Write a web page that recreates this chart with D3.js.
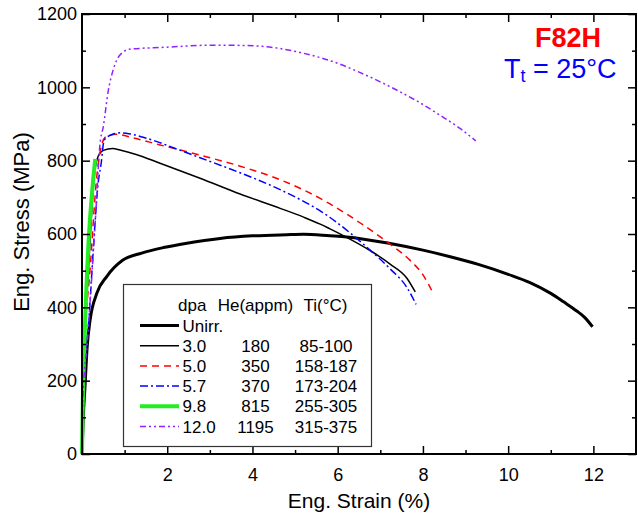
<!DOCTYPE html>
<html>
<head>
<meta charset="utf-8">
<script src="https://cdn.jsdelivr.net/npm/d3@7"></script>
<style>
    body { margin: 0; background: #fff; }
    svg { display: block; font-family: "Liberation Sans", Arial, sans-serif; }
</style>
</head>
<body>
<svg id="chart" width="638" height="519"></svg>
<script>
// strain (%), stress (MPa)
const unirr = [[0,0],[0.03,100],[0.07,183],[0.12,290],[0.19,365],[0.35,439],[0.58,484],[0.96,529],[1.4,548],[1.91,563],[2.46,575],[3.24,588],[4.0,595],[4.8,598],[5.2,599],[5.82,595],[6.21,592],[7.23,574],[8.0,556],[8.64,538],[9.3,517],[10.0,490],[10.5,468],[11.0,438],[11.3,415],[11.61,390],[11.8,372],[11.98,347]];
const dpa30 = [[0,0],[0.02,200],[0.15,500],[0.3,770],[0.38,812],[0.5,828],[0.72,833],[0.89,829],[1.27,817],[1.83,793],[2.77,752],[3.71,709],[4.65,670],[5.2,646],[5.59,627],[5.82,614],[6.21,591],[6.76,555],[7.23,518],[7.62,480],[7.82,442]];
const dpa50 = [[0,0],[0.02,200],[0.2,520],[0.35,760],[0.45,838],[0.56,865],[0.8,872],[1.2,862],[1.83,843],[2.77,815],[3.71,785],[4.65,748],[5.2,720],[5.59,697],[5.82,682],[6.53,630],[7.23,572],[7.7,528],[8.01,487],[8.25,436]];
const dpa57 = [[0,0],[0.02,180],[0.15,350],[0.3,620],[0.37,729],[0.45,793],[0.52,856],[0.72,872],[0.9,876],[1.13,873],[1.52,861],[2.22,832],[2.77,808],[3.71,767],[4.65,721],[5.2,689],[5.59,663],[5.82,645],[6.29,603],[6.76,556],[7.23,505],[7.62,455],[7.84,408]];
const dpa98 = [[0,0],[0.02,150],[0.31,805]];
const dpa120 = [[0,0],[0.02,150],[0.12,300],[0.25,520],[0.33,670],[0.42,843],[0.5,893],[0.62,993],[0.73,1047],[0.89,1088],[1.12,1104],[1.91,1109],[3.08,1115],[3.86,1114],[4.64,1106],[5.12,1095],[5.59,1081],[6.06,1063],[6.53,1040],[7.0,1015],[7.46,988],[7.93,958],[8.4,924],[8.87,888],[9.24,854]];

const dpaLabels = ['Unirr.', '3.0', '5.0', '5.7', '9.8', '12.0'];
const heLabels = ['', '180', '350', '370', '815', '1195'];
const tiLabels = ['', '85-100', '158-187', '173-204', '255-305', '315-375'];

const xTicks = [2, 4, 6, 8, 10, 12];
const yTicks = [0, 200, 400, 600, 800, 1000, 1200];

const series = [
    { data: unirr, color: '#000', width: 3, dash: null },
    { data: dpa30, color: '#000', width: 1.5, dash: null },
    { data: dpa50, color: '#ff0000', width: 1.5, dash: '7,5' },
    { data: dpa57, color: '#0000ff', width: 1.5, dash: '8,3,2,3' },
    { data: dpa98, color: '#22ee22', width: 4, dash: null },
    { data: dpa120, color: '#9122ff', width: 1.5, dash: '6,3,2,3,2,3' }
];

const svg = d3.select('#chart');
const plot = { left: 82, right: 636, top: 14, bottom: 454 };

const x = d3.scaleLinear().domain([0, 13]).range([plot.left, plot.right]);
const y = d3.scaleLinear().domain([0, 1200]).range([plot.bottom, plot.top]);

// curves first, frame drawn over them
const line = d3.line()
    .x(d => x(d[0]))
    .y(d => y(d[1]))
    .curve(d3.curveMonotoneX);

svg.append('g')
    .selectAll('path')
    .data(series)
    .enter()
    .append('path')
    .attr('d', d => line(d.data))
    .attr('fill', 'none')
    .attr('stroke', d => d.color)
    .attr('stroke-width', d => d.width)
    .attr('stroke-dasharray', d => d.dash)
    .attr('stroke-linejoin', 'round');

// axes, ticks pointing inward on all four sides
const styleAxis = g => {
    g.select('.domain').remove();
    g.selectAll('line').attr('stroke', '#000').attr('stroke-width', 1.5);
    g.selectAll('text').attr('fill', '#000').style('font-size', '18px');
};

const xMinor = d3.range(1, 13, 2);
const yMinor = d3.range(100, 1200, 200);

svg.append('g')
    .attr('transform', `translate(0,${plot.bottom})`)
    .call(d3.axisBottom(x).tickValues(xTicks).tickSize(-8).tickPadding(14).tickFormat(d3.format('d')))
    .call(styleAxis);
svg.append('g')
    .attr('transform', `translate(0,${plot.bottom})`)
    .call(d3.axisBottom(x).tickValues(xMinor).tickSize(-4).tickFormat(''))
    .call(styleAxis);
svg.append('g')
    .attr('transform', `translate(0,${plot.top})`)
    .call(d3.axisTop(x).tickValues(xTicks).tickSize(-8).tickFormat(''))
    .call(styleAxis);
svg.append('g')
    .attr('transform', `translate(0,${plot.top})`)
    .call(d3.axisTop(x).tickValues(xMinor).tickSize(-4).tickFormat(''))
    .call(styleAxis);

svg.append('g')
    .attr('transform', `translate(${plot.left},0)`)
    .call(d3.axisLeft(y).tickValues(yTicks).tickSize(-8).tickPadding(5).tickFormat(d3.format('d')))
    .call(styleAxis);
svg.append('g')
    .attr('transform', `translate(${plot.left},0)`)
    .call(d3.axisLeft(y).tickValues(yMinor).tickSize(-4).tickFormat(''))
    .call(styleAxis);
svg.append('g')
    .attr('transform', `translate(${plot.right},0)`)
    .call(d3.axisRight(y).tickValues(yTicks).tickSize(-8).tickFormat(''))
    .call(styleAxis);
svg.append('g')
    .attr('transform', `translate(${plot.right},0)`)
    .call(d3.axisRight(y).tickValues(yMinor).tickSize(-4).tickFormat(''))
    .call(styleAxis);

svg.append('rect')
    .attr('x', plot.left)
    .attr('y', plot.top)
    .attr('width', plot.right - plot.left)
    .attr('height', plot.bottom - plot.top)
    .attr('fill', 'none')
    .attr('stroke', '#000')
    .attr('stroke-width', 2);

// axis titles
svg.append('text')
    .attr('x', (plot.left + plot.right) / 2)
    .attr('y', 508)
    .attr('text-anchor', 'middle')
    .style('font-size', '21px')
    .text('Eng. Strain (%)');

svg.append('text')
    .attr('transform', 'translate(29,222) rotate(-90)')
    .attr('text-anchor', 'middle')
    .style('font-size', '22px')
    .text('Eng. Stress (MPa)');

// annotation
svg.append('text')
    .attr('x', 568)
    .attr('y', 47)
    .attr('text-anchor', 'middle')
    .attr('fill', '#ff0000')
    .style('font-size', '27px')
    .style('font-weight', 'bold')
    .text('F82H');

const tt = svg.append('text')
    .attr('x', 504)
    .attr('y', 78)
    .attr('fill', '#0000ff')
    .style('font-size', '27px');
tt.append('tspan').text('T');
tt.append('tspan').attr('dy', 4).style('font-size', '18px').text('t');
tt.append('tspan').attr('dy', -4).text(' = 25\u00b0C');

// legend table
const legend = svg.append('g');
legend.append('rect')
    .attr('x', 123.5)
    .attr('y', 284.5)
    .attr('width', 248)
    .attr('height', 162)
    .attr('fill', '#fff')
    .attr('stroke', '#333')
    .attr('stroke-width', 1.2);

const rowY = i => 331.5 + i * 20.2;
const head = legend.append('g').style('font-size', '17px');
head.append('text').attr('x', 178).attr('y', 310.5).text('dpa');
head.append('text').attr('x', 255.5).attr('y', 310.5).attr('text-anchor', 'middle').text('He(appm)');
head.append('text').attr('x', 325.5).attr('y', 310.5).attr('text-anchor', 'middle').text('Ti(\u00b0C)');

const rows = legend.selectAll('.row')
    .data(series)
    .enter()
    .append('g')
    .attr('class', 'row')
    .style('font-size', '17px');

rows.append('line')
    .attr('x1', 140)
    .attr('x2', 179)
    .attr('y1', (d, i) => rowY(i) - 6)
    .attr('y2', (d, i) => rowY(i) - 6)
    .attr('stroke', d => d.color)
    .attr('stroke-width', d => d.width)
    .attr('stroke-dasharray', d => d.dash);

rows.append('text')
    .attr('x', 182.5)
    .attr('y', (d, i) => rowY(i))
    .text((d, i) => dpaLabels[i]);
rows.append('text')
    .attr('x', 255.5)
    .attr('y', (d, i) => rowY(i))
    .attr('text-anchor', 'middle')
    .text((d, i) => heLabels[i]);
rows.append('text')
    .attr('x', 326)
    .attr('y', (d, i) => rowY(i))
    .attr('text-anchor', 'middle')
    .text((d, i) => tiLabels[i]);
</script>
</body>
</html>
